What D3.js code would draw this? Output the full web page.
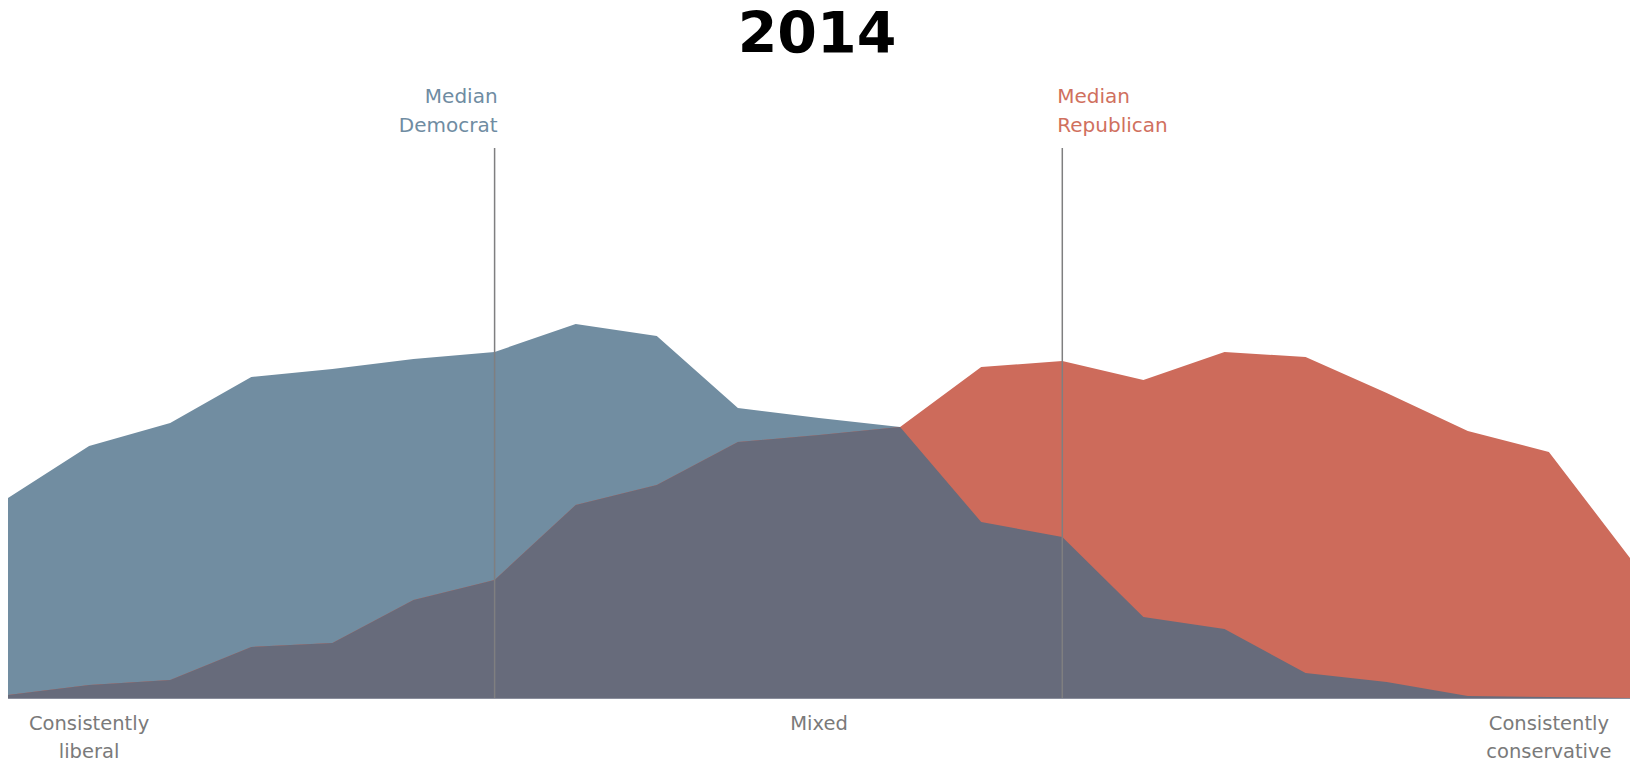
<!DOCTYPE html>
<html>
<head>
<meta charset="utf-8">
<script src="https://cdn.jsdelivr.net/npm/d3@7"></script>
<style>
  html, body { margin: 0; padding: 0; background: #fff; }
  svg { display: block; }
</style>
</head>
<body>
<svg id="chart"></svg>
<script>
// Ideological consistency scale, 21 steps from consistently liberal to consistently conservative
const steps = d3.range(21);

// Share of each party at each step (%)
const democrats = [4.0, 5.04, 5.5, 6.42, 6.58, 6.78, 6.92, 7.48, 7.24, 5.8, 5.6,
  5.42, 3.52, 3.22, 1.62, 1.38, 0.5, 0.32, 0.04, 0.02, 0.0];
const republicans = [0.06, 0.26, 0.36, 1.02, 1.1, 1.96, 2.36, 3.86, 4.26, 5.12, 5.26,
  5.42, 6.62, 6.74, 6.36, 6.92, 6.82, 6.1, 5.34, 4.92, 2.8];

// Median positions on the scale
const medians = [
  { party: 'dem', step: 6, lines: ['Median', 'Democrat'] },
  { party: 'rep', step: 13, lines: ['Median', 'Republican'] }
];

const axisLabels = [
  { step: 1, lines: ['Consistently', 'liberal'] },
  { step: 10, lines: ['Mixed'] },
  { step: 19, lines: ['Consistently', 'conservative'] }
];

const title = '2014';

const colors = {
  dem: '#718da1',
  rep: '#cd6b5b',
  overlap: '#676b7b',
  demText: '#6f8ca2',
  repText: '#d0705e'
};

const width = 1633;
const height = 764;
const baseY = 698;

const svg = d3.select('#chart')
  .attr('width', width)
  .attr('height', height);

const x = d3.scaleLinear()
  .domain([0, 20])
  .range([8, 1630]);

const y = d3.scaleLinear()
  .domain([0, 11.04])
  .range([baseY, 146]);

const rows = steps.map(i => ({
  i,
  dem: democrats[i],
  rep: republicans[i],
  both: Math.min(democrats[i], republicans[i])
}));

const area = key => d3.area()
  .x(d => x(d.i))
  .y0(y(0))
  .y1(d => y(d[key]));

// Layers: each party, then the overlap on top
svg.append('path')
  .datum(rows)
  .attr('d', area('dem'))
  .attr('fill', colors.dem);

svg.append('path')
  .datum(rows)
  .attr('d', area('rep'))
  .attr('fill', colors.rep);

svg.append('path')
  .datum(rows)
  .attr('d', area('both'))
  .attr('fill', colors.overlap);

// Baseline
svg.append('line')
  .attr('x1', x(0))
  .attr('x2', x(20))
  .attr('y1', baseY + 0.5)
  .attr('y2', baseY + 0.5)
  .attr('stroke', '#8a8e9c')
  .attr('stroke-width', 1);

// Median lines and labels
medians.forEach(m => {
  const mx = x(m.step);
  svg.append('line')
    .attr('x1', mx)
    .attr('x2', mx)
    .attr('y1', 148)
    .attr('y2', baseY)
    .attr('stroke', '#7f7f80')
    .attr('stroke-width', 1.5);

  const isDem = m.party === 'dem';
  const label = svg.append('text')
    .attr('x', isDem ? mx + 3 : mx - 5)
    .attr('y', 103)
    .attr('text-anchor', isDem ? 'end' : 'start')
    .attr('font-family', 'DejaVu Sans, sans-serif')
    .attr('font-size', 20)
    .attr('fill', isDem ? colors.demText : colors.repText);

  label.selectAll('tspan')
    .data(m.lines)
    .join('tspan')
    .attr('x', isDem ? mx + 3 : mx - 5)
    .attr('dy', (d, i) => i === 0 ? 0 : 29)
    .text(d => d);
});

// Bottom scale labels
axisLabels.forEach(a => {
  const t = svg.append('text')
    .attr('x', x(a.step))
    .attr('y', 730)
    .attr('text-anchor', 'middle')
    .attr('font-family', 'DejaVu Sans, sans-serif')
    .attr('font-size', 19.5)
    .attr('fill', '#7a7a7a');

  t.selectAll('tspan')
    .data(a.lines)
    .join('tspan')
    .attr('x', x(a.step))
    .attr('dy', (d, i) => i === 0 ? 0 : 28)
    .text(d => d);
});

// Title
svg.append('text')
  .attr('x', 817)
  .attr('y', 53)
  .attr('text-anchor', 'middle')
  .attr('font-family', 'DejaVu Sans, sans-serif')
  .attr('font-weight', 'bold')
  .attr('font-size', 57)
  .attr('fill', '#000')
  .text(title);
</script>
</body>
</html>
